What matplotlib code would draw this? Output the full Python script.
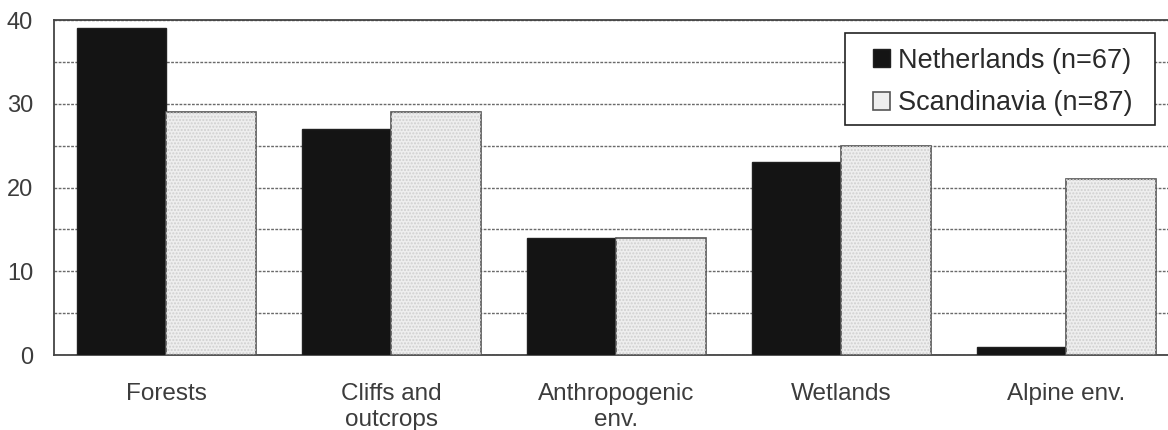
import numpy as np
from matplotlib import pyplot as plt
from matplotlib.patches import Rectangle

categories = ["Forests", "Cliffs and\noutcrops", "Anthropogenic\nenv.", "Wetlands", "Alpine env."]
netherlands = [39, 27, 14, 23, 1]
scandinavia = [29, 29, 14, 25, 21]
yticks = [0, 10, 20, 30, 40]

plt.rcParams['font.family'] = ['Liberation Sans', 'DejaVu Sans']
txt = '#3c3c3c'

fig = plt.figure(figsize=(11.68, 4.30), dpi=100)
ax = fig.add_axes([0.0462, 0.1744, 0.9628, 0.779])

x = np.arange(len(categories))
w = 0.398
ax.bar(x - w/2, netherlands, w, color='#141414', edgecolor='#202020', linewidth=1,
       label='Netherlands (n=67)', zorder=3)
ax.bar(x + w/2, scandinavia, w, color='#eeeeee', edgecolor='#555555', linewidth=1.2,
       label='Scandinavia (n=87)', zorder=3)
# light stipple on top of the grey bars
ax.bar(x + w/2, scandinavia, w, fill=False, edgecolor='#cfcfcf', linewidth=0,
       hatch='.....', zorder=3.5)

ax.set_xlim(-0.5, len(categories) - 0.5)
ax.set_ylim(0, 40)
ax.set_yticks(yticks)
ax.set_yticks(np.arange(5, 40, 5), minor=True)
ax.yaxis.grid(True, which='both', linestyle=(0, (2, 1)), color='#6a6a6a', linewidth=1, zorder=0)
ax.set_xticks(x)
ax.set_xticklabels(categories, fontsize=17.5, color=txt, linespacing=1.22)
ax.tick_params(axis='y', which='both', length=0, labelsize=17, labelcolor=txt, pad=15)
ax.tick_params(axis='x', length=0, pad=20)
for s in ['left', 'top', 'bottom', 'right']:
    ax.spines[s].set_color('#444444')
    ax.spines[s].set_linewidth(1.3)

# legend frame
fig.patches.append(Rectangle((0.7235, 0.7093), 0.2654, 0.214, transform=fig.transFigure,
                             facecolor='white', edgecolor='#222222', linewidth=1.2, zorder=5))
leg = fig.legend(*ax.get_legend_handles_labels(), loc='center left',
                 bbox_to_anchor=(873/1168, (430-82)/430), fontsize=19.5,
                 frameon=False, handlelength=0.62, handleheight=0.62, handletextpad=0.3,
                 borderpad=0, labelspacing=0.62, borderaxespad=0)
leg.set_zorder(6)
for t in leg.get_texts():
    t.set_color('#2a2a2a')

plt.savefig('out.png', dpi=100)
